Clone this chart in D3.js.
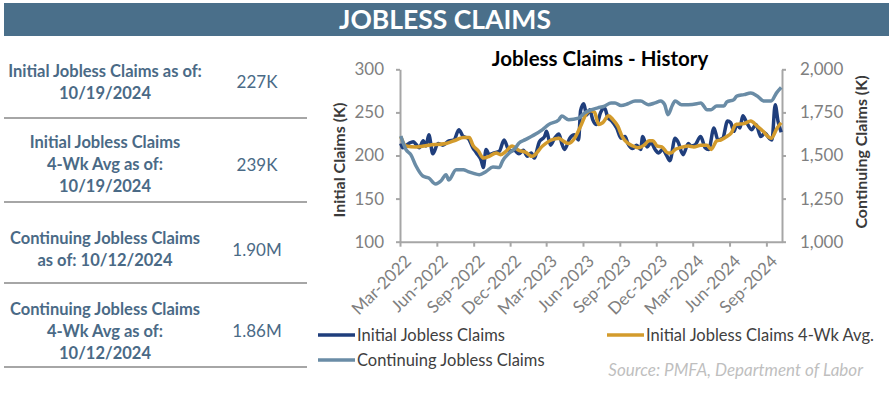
<!DOCTYPE html>
<html>
<head>
<meta charset="utf-8">
<script src="https://cdn.jsdelivr.net/npm/d3@7"></script>
<style>
  body { margin: 0; background: #fff; }
  svg { display: block; font-family: Lato, "Open Sans", sans-serif; }
</style>
</head>
<body>
<svg width="892" height="396"></svg>
<script>
// summary table on the left
const tableRows = [
  { label: ["Initial Jobless Claims as of:", "10/19/2024"], value: "227K" },
  { label: ["Initial Jobless Claims", "4-Wk Avg as of:", "10/19/2024"], value: "239K" },
  { label: ["Continuing Jobless Claims", "as of: 10/12/2024"], value: "1.90M" },
  { label: ["Continuing Jobless Claims", "4-Wk Avg as of:", "10/12/2024"], value: "1.86M" }
];

// initial jobless claims (K)
const initialDates = ["2022-03-03","2022-03-08","2022-03-23","2022-04-03","2022-04-10","2022-04-18","2022-04-28","2022-05-05","2022-05-12","2022-05-22","2022-06-04","2022-06-16","2022-07-01","2022-07-14","2022-07-26","2022-08-06","2022-08-18","2022-08-30","2022-09-08","2022-09-20","2022-09-25","2022-10-02","2022-10-10","2022-10-22","2022-11-04","2022-11-16","2022-11-29","2022-12-11","2022-12-23","2023-01-03","2023-01-13","2023-01-23","2023-01-30","2023-02-12","2023-02-25","2023-03-02","2023-03-12","2023-03-22","2023-04-02","2023-04-09","2023-04-16","2023-04-29","2023-05-11","2023-05-21","2023-05-26","2023-06-03","2023-06-10","2023-06-18","2023-06-25","2023-07-05","2023-07-15","2023-07-25","2023-08-02","2023-08-12","2023-08-24","2023-09-04","2023-09-14","2023-09-21","2023-10-03","2023-10-13","2023-10-23","2023-10-28","2023-11-08","2023-11-18","2023-11-28","2023-12-07","2023-12-17","2023-12-27","2024-01-04","2024-01-17","2024-01-24","2024-02-06","2024-02-19","2024-02-26","2024-03-06","2024-03-21","2024-04-01","2024-04-10","2024-04-23","2024-05-03","2024-05-15","2024-05-27","2024-06-04","2024-06-12","2024-06-19","2024-06-27","2024-07-04","2024-07-14","2024-07-26","2024-08-06","2024-08-18","2024-08-28","2024-09-08","2024-09-15","2024-09-23","2024-09-30","2024-10-08"];
const initialValues = [214,209,214,216,213,209,217,211,224,202,214,212,217,218,230,222,220,209,203,194,186,207,201,203,205,218,205,206,202,206,199,203,197,216,222,228,212,220,225,214,207,220,224,218,252,260,247,253,242,236,250,255,244,240,232,220,222,214,208,212,207,222,210,215,207,203,207,200,194,220,216,201,214,211,212,222,209,207,232,218,220,240,238,228,236,232,246,238,230,236,222,226,220,218,259,240,227];

// initial claims 4-week average (K)
const avgDates = ["2022-03-03","2022-03-16","2022-04-10","2022-05-12","2022-06-24","2022-07-19","2022-08-06","2022-08-21","2022-08-30","2022-09-13","2022-09-25","2022-10-10","2022-10-27","2022-11-07","2022-11-21","2022-12-06","2022-12-23","2023-01-08","2023-01-25","2023-02-20","2023-03-14","2023-04-02","2023-04-09","2023-04-26","2023-05-11","2023-05-28","2023-06-10","2023-06-20","2023-06-30","2023-07-10","2023-07-20","2023-08-04","2023-08-14","2023-08-27","2023-09-07","2023-09-19","2023-10-04","2023-10-16","2023-11-01","2023-11-13","2023-11-23","2023-12-03","2023-12-15","2023-12-30","2024-01-07","2024-01-17","2024-01-29","2024-02-19","2024-03-04","2024-03-21","2024-04-06","2024-04-16","2024-04-30","2024-05-10","2024-05-25","2024-06-05","2024-06-17","2024-07-07","2024-07-24","2024-08-09","2024-08-24","2024-09-05","2024-09-13","2024-09-28","2024-10-08"];
const avgValues = [222,211,210,212,214,218,221,221,212,205,197,199,203,201,205,211,206,204,199,211,218,220,218,214,220,236,249,252,250,236,238,246,242,234,222,215,211,209,212,217,217,211,210,203,203,207,209,211,210,212,212,207,217,218,222,226,236,237,240,234,228,222,220,232,238];

// continuing jobless claims (K)
const contDates = ["2022-03-03","2022-03-16","2022-03-28","2022-04-10","2022-04-27","2022-05-12","2022-05-29","2022-06-11","2022-06-24","2022-07-01","2022-07-19","2022-08-06","2022-08-18","2022-08-30","2022-09-15","2022-10-02","2022-10-19","2022-11-04","2022-11-12","2022-11-29","2022-12-14","2022-12-23","2023-01-08","2023-01-25","2023-02-20","2023-03-07","2023-04-02","2023-04-09","2023-04-26","2023-05-21","2023-06-05","2023-06-23","2023-07-08","2023-07-25","2023-08-10","2023-08-20","2023-09-04","2023-09-21","2023-10-09","2023-10-23","2023-11-11","2023-11-28","2023-12-12","2023-12-22","2023-12-30","2024-01-10","2024-01-17","2024-02-02","2024-02-19","2024-03-11","2024-03-21","2024-04-06","2024-04-16","2024-04-30","2024-05-18","2024-05-25","2024-06-12","2024-06-19","2024-07-07","2024-07-24","2024-08-09","2024-08-26","2024-09-13","2024-09-26","2024-10-08"];
const contValues = [1613,1534,1505,1439,1381,1369,1335,1352,1389,1358,1418,1418,1407,1398,1389,1407,1433,1430,1468,1514,1543,1572,1592,1613,1650,1679,1708,1729,1708,1717,1747,1766,1776,1787,1805,1805,1790,1800,1816,1816,1795,1805,1816,1795,1737,1790,1816,1795,1795,1800,1805,1766,1766,1787,1787,1810,1824,1845,1853,1862,1845,1816,1816,1862,1895];

const leftTicks = [100, 150, 200, 250, 300];
const rightTicks = [1000, 1250, 1500, 1750, 2000];

const svg = d3.select("svg");
const parse = d3.timeParse("%Y-%m-%d");
const tableColor = "#4a6a86";

// header bar
svg.append("rect")
  .attr("x", 4).attr("y", 3).attr("width", 885).attr("height", 33)
  .attr("fill", "#4a6f8a");
svg.append("text")
  .attr("x", 445).attr("y", 29)
  .attr("text-anchor", "middle")
  .attr("fill", "#fff")
  .attr("font-size", 26.5).attr("font-weight", 700)
  .text("JOBLESS CLAIMS");

// table
const rowBase = [[77, 99], [148, 170, 192], [244, 266], [315, 337, 359]];
const valueBase = [88, 171, 256, 337];
const sepY = [118, 202, 283, 367];

tableRows.forEach((r, i) => {
  r.label.forEach((line, j) => {
    svg.append("text")
      .attr("x", 105).attr("y", rowBase[i][j])
      .attr("text-anchor", "middle")
      .attr("fill", tableColor)
      .attr("font-size", 16.5).attr("font-weight", 700)
      .text(line);
  });
  svg.append("text")
    .attr("x", 257).attr("y", valueBase[i])
    .attr("text-anchor", "middle")
    .attr("fill", tableColor)
    .attr("font-size", 17)
    .text(r.value);
  svg.append("line")
    .attr("x1", 4).attr("x2", 307)
    .attr("y1", sepY[i]).attr("y2", sepY[i])
    .attr("stroke", "#a6a6a6").attr("stroke-width", 2);
});

// chart
const x = d3.scaleTime()
  .domain([parse("2022-03-01"), parse("2024-10-10")])
  .range([400, 782]);
const yL = d3.scaleLinear().domain([100, 300]).range([241.7, 69.3]);
const yR = d3.scaleLinear().domain([1000, 2000]).range([241.7, 69.3]);

const axisColor = "#a6a6a6";
const tickColor = "#7f7f7f";
const xTicks = d3.timeMonth.range(parse("2022-03-01"), parse("2024-10-01"), 3);

const gx = svg.append("g").attr("transform", "translate(0,241.7)")
  .call(d3.axisBottom(x).tickValues(xTicks).tickSize(5).tickSizeOuter(0).tickFormat(d3.timeFormat("%b-%Y")));
gx.selectAll("text")
  .attr("font-size", 17).attr("fill", tickColor)
  .attr("text-anchor", "end")
  .attr("dx", 0).attr("dy", 0)
  .attr("transform", "translate(6,15) rotate(-45)");

const gl = svg.append("g").attr("transform", "translate(400,0)")
  .call(d3.axisLeft(yL).tickValues(leftTicks).tickSize(4).tickSizeOuter(0).tickPadding(12));
gl.selectAll("text").attr("font-size", 17).attr("fill", tickColor);

const gr = svg.append("g").attr("transform", "translate(782,0)")
  .call(d3.axisRight(yR).tickValues(rightTicks).tickSize(4).tickSizeOuter(0).tickPadding(14).tickFormat(d3.format(",")));
gr.selectAll("text").attr("font-size", 17).attr("fill", tickColor);

svg.selectAll(".domain, .tick line").attr("stroke", axisColor).attr("stroke-width", 2);
svg.selectAll(".tick text").attr("font-family", "Lato, sans-serif");

// axis titles
svg.append("text")
  .attr("transform", "translate(345,160) rotate(-90)")
  .attr("text-anchor", "middle").attr("fill", "#3a3a3a")
  .attr("font-size", 16).attr("font-weight", 700)
  .text("Initial  Claims (K)");
svg.append("text")
  .attr("transform", "translate(867,152) rotate(-90)")
  .attr("text-anchor", "middle").attr("fill", "#3a3a3a")
  .attr("font-size", 16).attr("font-weight", 700)
  .text("Continuing  Claims (K)");

svg.append("text")
  .attr("x", 600).attr("y", 66)
  .attr("text-anchor", "middle").attr("fill", "#000")
  .attr("font-size", 20.5).attr("font-weight", 700)
  .text("Jobless Claims - History");

// series
const series = [
  { dates: initialDates, values: initialValues, y: yL, color: "#1f3e7c" },
  { dates: avgDates, values: avgValues, y: yL, color: "#d39b2c" },
  { dates: contDates, values: contValues, y: yR, color: "#6a8ca6" }
];

series.forEach(s => {
  const pts = s.dates.map((d, i) => [parse(d), s.values[i]]);
  const line = d3.line()
    .x(d => x(d[0]))
    .y(d => s.y(d[1]))
    .curve(d3.curveMonotoneX);
  svg.append("path")
    .datum(pts)
    .attr("fill", "none")
    .attr("stroke", s.color)
    .attr("stroke-width", 3.5)
    .attr("stroke-linejoin", "round")
    .attr("d", line);
});

// legend
const legendItems = [
  { name: "Initial Jobless Claims", color: "#1f3e7c", x: 318, y: 335 },
  { name: "Initial Jobless Claims 4-Wk Avg.", color: "#d39b2c", x: 607, y: 335 },
  { name: "Continuing Jobless Claims", color: "#6a8ca6", x: 318, y: 360 }
];
legendItems.forEach(d => {
  svg.append("line")
    .attr("x1", d.x).attr("x2", d.x + 37)
    .attr("y1", d.y).attr("y2", d.y)
    .attr("stroke", d.color).attr("stroke-width", 3.5);
  svg.append("text")
    .attr("x", d.x + 39).attr("y", d.y + 6)
    .attr("fill", "#404040").attr("font-size", 16.5)
    .text(d.name);
});

svg.append("text")
  .attr("x", 863).attr("y", 376)
  .attr("text-anchor", "end")
  .attr("fill", "#bfbfbf").attr("font-size", 17).attr("font-style", "italic")
  .text("Source: PMFA, Department  of Labor");
</script>
</body>
</html>
